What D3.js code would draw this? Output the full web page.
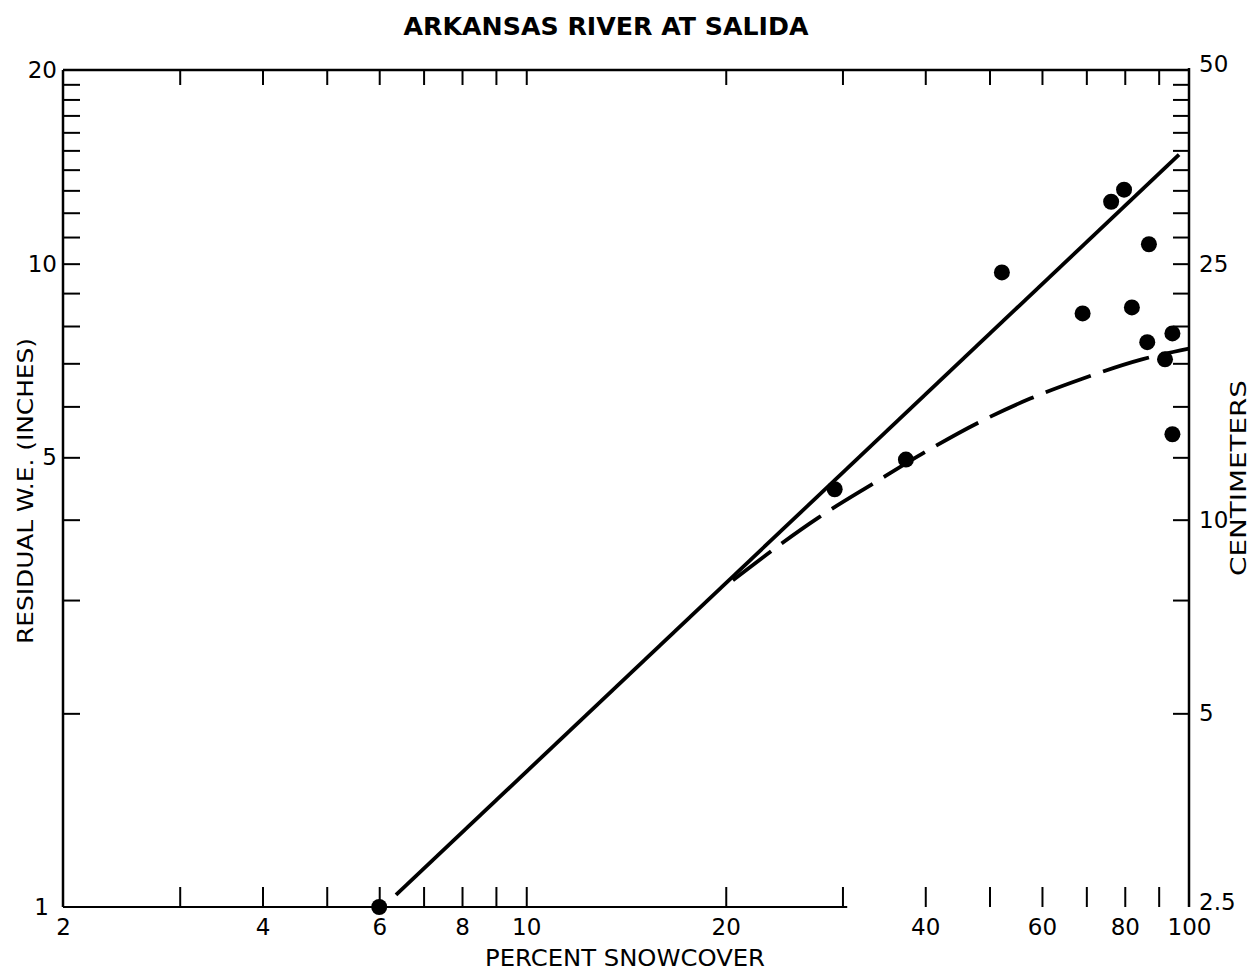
<!DOCTYPE html>
<html>
<head>
<meta charset="utf-8">
<script src="https://cdn.jsdelivr.net/npm/d3@7"></script>
<style>
  html, body { margin: 0; padding: 0; background: #fff; }
  svg { display: block; }
  text { font-family: "DejaVu Sans", "Liberation Sans", sans-serif; fill: #000; }
</style>
</head>
<body>
<svg id="chart" width="1255" height="971"></svg>
<script>
// ---- data ----
const snowcoverPct = [6, 29.2, 37.4, 52.2, 69.1, 76.3, 79.8, 82.0, 87.0, 86.5, 94.4, 92.0, 94.4];
const residualWE   = [1.0, 4.46, 4.96, 9.69, 8.37, 12.48, 13.03, 8.55, 10.72, 7.55, 7.79, 7.10, 5.43];

const fitLineX = [6.36, 96.6];
const fitLineY = [1.044, 14.77];

const curveX = [20.5, 27.6, 33.6, 40.3, 48.1, 57.6, 69.2, 84.9, 100];
const curveY = [3.22, 4.03, 4.57, 5.12, 5.66, 6.17, 6.63, 7.10, 7.38];

const xTicks = [2, 3, 4, 5, 6, 7, 8, 9, 10, 20, 30, 40, 50, 60, 70, 80, 90, 100];
const xTickLabels = [2, 4, 6, 8, 10, 20, 40, 60, 80, 100];
const yTicks = [1, 2, 3, 4, 5, 6, 7, 8, 9, 10, 11, 12, 13, 14, 15, 16, 17, 18, 19, 20];
const yTickLabels = [1, 5, 10, 20];
const cmTicks = [2.5, 5, 7.5, 10, 12.5, 15, 17.5, 20, 22.5, 25, 27.5, 30, 32.5, 35, 37.5, 40, 42.5, 45, 47.5, 50];
const cmTickLabels = [2.5, 5, 10, 25, 50];

const titleText = "ARKANSAS RIVER AT SALIDA";
const xTitle = "PERCENT SNOWCOVER";
const yTitle = "RESIDUAL W.E. (INCHES)";
const y2Title = "CENTIMETERS";

// ---- layout ----
const L = 63, R = 1189, T = 70, B = 907;
const svg = d3.select("#chart");

const x = d3.scaleLog().domain([2, 100]).range([L, R]);
const y = d3.scaleLog().domain([1, 20]).range([B, T]);
const yCm = d3.scaleLog().domain([2.5, 50]).range([B, T]);

const fmt = list => d => list.includes(d) ? String(d) : "";

// bottom axis
const gB = svg.append("g").attr("transform", `translate(0,${B})`)
  .call(d3.axisBottom(x).tickValues(xTicks).tickSize(-20).tickSizeOuter(0).tickPadding(12).tickFormat(fmt(xTickLabels)));
gB.select(".domain").remove();
gB.selectAll(".tick line").attr("stroke", "#000").attr("stroke-width", 2);
gB.selectAll(".tick").filter(d => d === 2 || d === 100).select("line").remove();
gB.selectAll("text").attr("font-size", 23);
// bottom frame line (faded in the scan beyond ~30%)
svg.append("line").attr("x1", x(2)).attr("x2", x(30.5)).attr("y1", B).attr("y2", B)
  .attr("stroke", "#000").attr("stroke-width", 2.2);

// top axis
const gT = svg.append("g").attr("transform", `translate(0,${T})`)
  .call(d3.axisTop(x).tickValues(xTicks.filter(d => d > 2 && d < 100)).tickSize(-15).tickSizeOuter(0).tickFormat(""));
gT.select(".domain").remove();
gT.selectAll(".tick line").attr("stroke", "#000").attr("stroke-width", 2);
svg.append("line").attr("x1", L).attr("x2", R).attr("y1", T).attr("y2", T)
  .attr("stroke", "#000").attr("stroke-width", 2.5);

// left axis
const gL = svg.append("g").attr("transform", `translate(${L},0)`)
  .call(d3.axisLeft(y).tickValues(yTicks).tickSize(-17).tickSizeOuter(0).tickPadding(6).tickFormat(fmt(yTickLabels)));
gL.select(".domain").remove();
gL.selectAll(".tick line").attr("stroke", "#000").attr("stroke-width", 2);
gL.selectAll(".tick").filter(d => d === 1 || d === 20).select("line").remove();
gL.selectAll("text").attr("font-size", 23);
gL.selectAll(".tick").filter(d => d === 1).select("text").attr("x", -14);
svg.append("line").attr("x1", L).attr("x2", L).attr("y1", T).attr("y2", B)
  .attr("stroke", "#000").attr("stroke-width", 2.5);

// right axis (centimeters)
const gR = svg.append("g").attr("transform", `translate(${R},0)`)
  .call(d3.axisRight(yCm).tickValues(cmTicks).tickSize(-16).tickSizeOuter(0).tickPadding(10).tickFormat(fmt(cmTickLabels)));
gR.select(".domain").remove();
gR.selectAll(".tick line").attr("stroke", "#000").attr("stroke-width", 2);
gR.selectAll(".tick").filter(d => d === 2.5 || d === 50).select("line").remove();
gR.selectAll("text").attr("font-size", 23);
gR.selectAll(".tick").filter(d => d === 2.5).select("text").attr("dy", "0.1em");
gR.selectAll(".tick").filter(d => d === 50).select("text").attr("dy", "0.05em");
svg.append("line").attr("x1", R).attr("x2", R).attr("y1", T - 2).attr("y2", B)
  .attr("stroke", "#000").attr("stroke-width", 2.5);

// fitted solid line
const lineGen = d3.line().x(d => x(d[0])).y(d => y(d[1]));
svg.append("path")
  .datum(fitLineX.map((v, i) => [v, fitLineY[i]]))
  .attr("d", lineGen)
  .attr("fill", "none").attr("stroke", "#000").attr("stroke-width", 3.8);

// dashed curve
const curveGen = d3.line().x(d => x(d[0])).y(d => y(d[1])).curve(d3.curveMonotoneX);
svg.append("path")
  .datum(curveX.map((v, i) => [v, curveY[i]]))
  .attr("d", curveGen)
  .attr("fill", "none").attr("stroke", "#000").attr("stroke-width", 3.8)
  .attr("stroke-dasharray", "48,13");

// data points
svg.append("g").selectAll("circle")
  .data(snowcoverPct.map((v, i) => [v, residualWE[i]]))
  .join("circle")
  .attr("cx", d => x(d[0])).attr("cy", d => y(d[1]))
  .attr("r", 8).attr("fill", "#000");

// titles
svg.append("text").attr("x", 606).attr("y", 35).attr("text-anchor", "middle")
  .attr("font-size", 25).attr("font-weight", "bold")
  .attr("textLength", 405).attr("lengthAdjust", "spacingAndGlyphs")
  .text(titleText);

svg.append("text").attr("x", 625).attr("y", 966).attr("text-anchor", "middle")
  .attr("font-size", 23).attr("textLength", 280).attr("lengthAdjust", "spacingAndGlyphs")
  .text(xTitle);

svg.append("text").attr("transform", "translate(33,491) rotate(-90)").attr("text-anchor", "middle")
  .attr("font-size", 22).attr("textLength", 306).attr("lengthAdjust", "spacingAndGlyphs")
  .text(yTitle);

svg.append("text").attr("transform", "translate(1246,478) rotate(-90)").attr("text-anchor", "middle")
  .attr("font-size", 21).attr("textLength", 196).attr("lengthAdjust", "spacingAndGlyphs")
  .text(y2Title);
</script>
</body>
</html>
